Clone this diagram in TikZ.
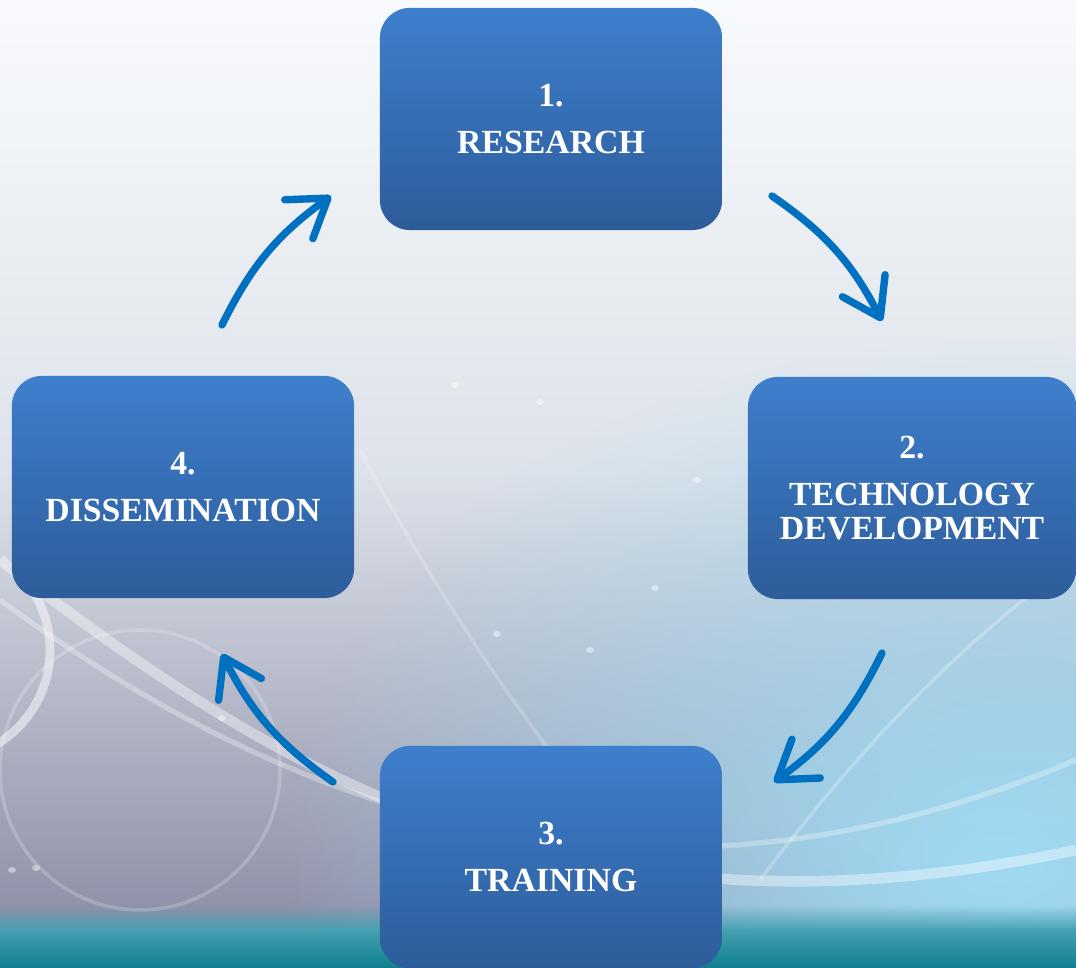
\documentclass[tikz,border=0pt]{standalone}
\usepackage{fontspec}
\setmainfont{Liberation Serif}
\usepackage{tikz}
\usetikzlibrary{arrows.meta, positioning, fadings, calc}
\definecolor{boxtop}{RGB}{62, 127, 205}
\definecolor{boxbot}{RGB}{45, 92, 154}
\definecolor{cyclearrow}{RGB}{0, 112, 192}
\definecolor{bgtop}{RGB}{248, 250, 253}
\definecolor{bgmid}{RGB}{221, 227, 234}
\definecolor{bgbot}{RGB}{140, 140, 165}
\definecolor{bgcyan}{RGB}{160, 218, 242}
\definecolor{tealtop}{RGB}{70, 160, 178}
\definecolor{tealbot}{RGB}{14, 127, 142}
\tikzfading[name=softglow, inner color=transparent!0, outer color=transparent!100]

\begin{document}
\begin{tikzpicture}[
  x=0.01cm, y=-0.01cm,
  stagebox/.style={rounded corners=30pt*0.01/0.0352, minimum width=3.42cm, minimum height=2.22cm,
    top color=boxtop, bottom color=boxbot, draw=none, align=center, text=white,
    font=\bfseries\fontsize{9.6}{13.4}\selectfont},
  cyclearr/.style={draw=cyclearrow, line width=2.1pt, line cap=round,
    -{Straight Barb[length=3.6mm, width=4.8mm, round]}, bend left=14},
  swoosh/.style={white, line width=#1, opacity=0.4},
  glow/.style={white, opacity=0.45}
]
  % background
  \useasboundingbox (0,0) rectangle (1076,968);
  \fill[top color=bgtop, bottom color=bgbot, middle color=bgmid] (0,0) rectangle (1076,935);
  \fill[bgcyan, path fading=softglow] (1000,860) ellipse[x radius=720, y radius=520];
  \fill[bgcyan, opacity=0.6, path fading=softglow] (1076,900) ellipse[x radius=420, y radius=300];
  \fill[top color=tealtop, bottom color=tealbot] (0,930) rectangle (1076,968);
  \fill[tealtop, path fading=north] (0,905) rectangle (1076,931);
  \draw[swoosh=3pt] (0,560) .. controls (260,760) and (560,960) .. (1076,850);
  \draw[swoosh=1.5pt, opacity=0.3] (0,600) .. controls (300,820) and (650,940) .. (1076,760);
  \draw[swoosh=1pt, opacity=0.2] (360,450) .. controls (450,620) and (560,780) .. (700,930);
  \draw[swoosh=1pt, opacity=0.25] (1076,560) .. controls (950,650) and (850,760) .. (760,880);
  \draw[swoosh=2.5pt, opacity=0.5] (-60,760) arc[start angle=90, end angle=-30, radius=110];
  \draw[swoosh=1pt, opacity=0.2] (140,770) circle[radius=140];
  \foreach \gx/\gy in {455/385, 540/402, 697/480, 222/718, 497/634, 655/588, 12/870, 36/868, 590/650}
    \fill[glow] (\gx,\gy) ellipse[x radius=4, y radius=3];

  % stages
  \node[stagebox] (research) at (551,119) {1.\\RESEARCH};
  \node[stagebox, minimum width=3.28cm] (techdev) at (912,488) {2.\\TECHNOLOGY\\[-3.7pt]DEVELOPMENT};
  \node[stagebox] (training) at (551,857) {3.\\TRAINING};
  \node[stagebox] (dissem) at (183,487) {4.\\DISSEMINATION};

  % arrow ends
  \coordinate (r2t) at (772,196);
  \coordinate (t2r) at (882,321);
  \coordinate (t2d) at (882,653);
  \coordinate (d2t) at (774,782);
  \coordinate (tr2d) at (333,782);
  \coordinate (d2tr) at (222,654);
  \coordinate (ds2r) at (222,325);
  \coordinate (r2ds) at (331,196);

  \draw[cyclearr] (r2t) to (t2r);
  \draw[cyclearr] (t2d) to (d2t);
  \draw[cyclearr] (tr2d) to (d2tr);
  \draw[cyclearr] (ds2r) to (r2ds);
\end{tikzpicture}
\end{document}
